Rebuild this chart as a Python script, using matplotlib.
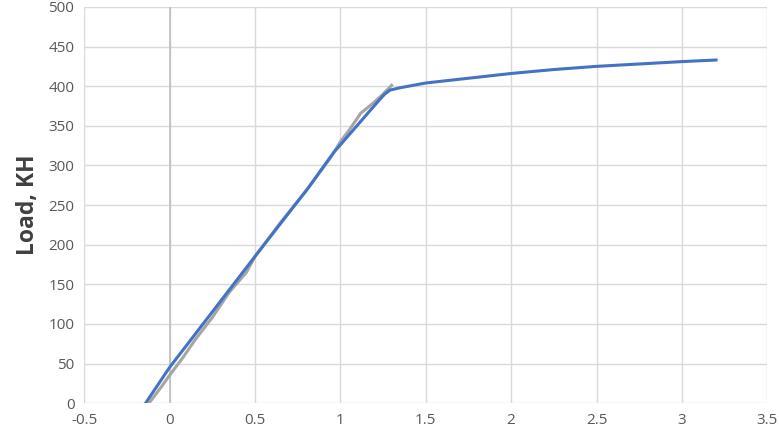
import matplotlib
matplotlib.use('Agg')
import matplotlib.pyplot as plt

# Experimental curve (gray)
exp_disp = [-0.12, -0.05, 0.0, 0.08, 0.15, 0.25, 0.35, 0.45, 0.5, 0.65, 0.8, 0.95, 1.0, 1.05, 1.12, 1.2, 1.25, 1.3]
exp_load = [0, 20, 35, 58, 80, 108, 140, 165, 185, 228, 268, 312, 330, 344, 366, 380, 390, 401]

# Model curve (blue)
mod_disp = [-0.14, 0.0, 0.5, 0.81, 0.96, 1.23, 1.26, 1.29, 1.35, 1.5, 1.75, 2.0, 2.25, 2.5, 2.75, 3.0, 3.2]
mod_load = [0, 45, 185, 271, 316, 383, 390, 395, 398, 404, 410, 416, 421, 425, 428, 431, 433]

plt.rcParams['font.family'] = ['Open Sans', 'DejaVu Sans']

fig = plt.figure(figsize=(7.79, 4.33), dpi=100)
ax = fig.add_axes([0.108, 0.069, 0.877, 0.915])

ax.plot(exp_disp, exp_load, color='#A5A5A5', linewidth=2.2)
ax.plot(mod_disp, mod_load, color='#4472C4', linewidth=2.2)

ax.set_xlim(-0.5, 3.5)
ax.set_ylim(0, 500)
ax.set_xticks([-0.5, 0, 0.5, 1, 1.5, 2, 2.5, 3, 3.5])
ax.set_xticklabels(['-0.5', '0', '0.5', '1', '1.5', '2', '2.5', '3', '3.5'])
ax.set_yticks(range(0, 501, 50))

ax.grid(True, color='#D9D9D9', linewidth=1)
ax.set_axisbelow(True)
ax.axvline(0, color='#BFBFBF', linewidth=1.2, zorder=1)
for s in ax.spines.values():
    s.set_visible(False)
ax.tick_params(length=0, labelsize=11, colors='#595959', pad=7)

ax.set_ylabel('Load, KH', fontsize=16.5, fontweight='bold', color='#404040', labelpad=6)

fig.savefig('out.png', dpi=100)
